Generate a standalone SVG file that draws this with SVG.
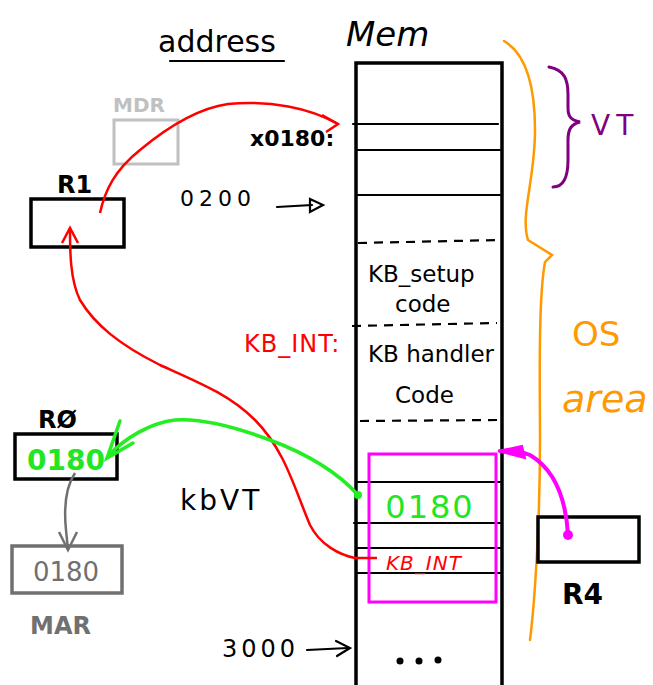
<svg xmlns="http://www.w3.org/2000/svg" width="653" height="685" viewBox="0 0 653 685">
<style>
.t{font-family:"DejaVu Sans","Liberation Sans",sans-serif;fill:#000}
.ln{stroke:#000;stroke-width:2.2;fill:none;stroke-linecap:round}
.dash{stroke:#000;stroke-width:2.2;fill:none;stroke-dasharray:9 7}
.box{stroke:#000;stroke-width:3.5;fill:#fff}
</style>
<rect width="653" height="685" fill="#fff"/>
<g id="address"><text class="t" x="158" y="52" font-size="30">address</text><path class="ln" d="M170 61 L284 61" stroke-width="2.5"/></g>
<g id="mem">
<text class="t" x="346" y="46" font-size="34" font-style="italic">Mem</text>
<path d="M356 685 L356 63 L502 63 L502 685" stroke="#000" stroke-width="3.5" fill="none"/>
<path class="ln" d="M353 124 L498 124"/>
<path class="ln" d="M356 150 L500 150"/>
<path class="ln" d="M356 195 L500 195"/>
<path class="dash" d="M358 243 L500 240"/>
<path class="dash" d="M352 326 L497 323"/>
<path class="dash" d="M360 421 L497 420"/>
<text class="t" x="368" y="282" font-size="23">KB_setup</text>
<text class="t" x="395" y="312" font-size="23">code</text>
<text class="t" x="368" y="362" font-size="23">KB handler</text>
<text class="t" x="395" y="403" font-size="23">Code</text>
<path class="ln" d="M356 482 L500 482"/>
<path class="ln" d="M354 523 L500 523"/>
<path class="ln" d="M356 548 L500 548"/>
<path class="ln" d="M356 573 L500 573"/>
<text x="430" y="518" font-size="32" fill="#22e622" text-anchor="middle" font-family="DejaVu Sans, sans-serif" letter-spacing="2">0180</text>
<text x="386" y="570" font-size="20" fill="#ff0000" font-family="DejaVu Sans, sans-serif" font-style="italic" letter-spacing="1">KB_INT</text>
<rect x="369" y="454" width="127" height="148" fill="none" stroke="#ff00ff" stroke-width="3"/>
<circle cx="400" cy="661" r="3.5"/><circle cx="419" cy="661" r="3.5"/><circle cx="438" cy="660" r="3.5"/>
</g>
<g id="labels">
<text class="t" x="250" y="146" font-size="22" font-weight="bold">x0180:</text>
<text class="t" x="180" y="206" font-size="22" letter-spacing="5">0200</text>
<text class="t" x="180" y="510" font-size="28" letter-spacing="3">kbVT</text>
<text class="t" x="222" y="657" font-size="24" letter-spacing="4">3000</text>
<text x="244" y="352" font-size="24" fill="#ff0000" font-family="DejaVu Sans, sans-serif" letter-spacing="1">KB_INT:</text>
</g>
<g id="vt"><path d="M549 67 C565 70,568 80,568 95 L568 108 C568 118,572 120,580 122 C572 124,568 128,568 140 L568 160 C568 180,562 187,553 187" stroke="#800080" stroke-width="3" fill="none" stroke-linecap="round"/>
<text x="591" y="135" font-size="28" fill="#800080" font-family="DejaVu Sans, sans-serif" letter-spacing="6">VT</text></g>
<g id="os"><path d="M504 41 C528 55,535 90,535 130 C535 180,520 215,528 240 L552 255 L545 262 C538 300,540 390,540 440 C540 520,535 600,530 640" stroke="#ff9900" stroke-width="2.5" fill="none" stroke-linecap="round"/>
<text x="572" y="346" font-size="34" fill="#ff9900" font-family="DejaVu Sans, sans-serif">OS</text>
<text x="562" y="412" font-size="38" fill="#ff9900" font-family="DejaVu Sans, sans-serif" font-style="italic">area</text></g>
<g id="mdr"><text x="113" y="112" font-size="20" font-weight="bold" fill="#c0c0c0" font-family="DejaVu Sans, sans-serif">MDR</text>
<rect x="114" y="120" width="64" height="44" fill="none" stroke="#c0c0c0" stroke-width="3"/></g>
<g id="r1"><text class="t" x="57" y="193" font-size="24" font-weight="bold">R1</text>
<rect class="box" x="31" y="199" width="93" height="48"/></g>
<g id="r0"><text class="t" x="38" y="428" font-size="24" font-weight="bold">RØ</text>
<rect class="box" x="15" y="434" width="102" height="45"/>
<text x="27" y="470" font-size="28" fill="#22e622" font-family="DejaVu Sans, sans-serif" font-weight="bold">0180</text></g>
<g id="mar"><rect x="12" y="546" width="110" height="47" fill="#fff" stroke="#707070" stroke-width="3.5"/>
<text x="66" y="581" font-size="26" fill="#707070" text-anchor="middle" font-family="DejaVu Sans, sans-serif">0180</text>
<text x="30" y="634" font-size="24" fill="#707070" font-weight="bold" font-family="DejaVu Sans, sans-serif">MAR</text></g>
<g id="r4"><rect class="box" x="538" y="517" width="101" height="45"/>
<text class="t" x="562" y="604" font-size="28" font-weight="bold">R4</text></g>
<g id="connectors">
<path d="M100 213 C105 190,115 170,140 150 C170 125,200 108,228 104 C270 100,310 108,338 124" stroke="#ff0000" stroke-width="2.5" fill="none"/>
<path d="M322 115 L338 124 L326 132" stroke="#ff0000" stroke-width="2.5" fill="none"/>
<path d="M377 558 L355 558 C340 555,320 545,310 525 C295 490,285 450,255 420 C230 395,200 383,160 365 C120 345,95 325,80 300 C70 280,70 250,70 230" stroke="#ff0000" stroke-width="2.5" fill="none"/>
<path d="M62 243 L70 228 L78 243" stroke="#ff0000" stroke-width="2.5" fill="none"/>
<path d="M358 495 C340 475,310 455,270 440 C230 425,200 418,175 420 C150 423,125 438,108 456" stroke="#22ee22" stroke-width="3.5" fill="none"/>
<path d="M120 421 L107 458 L133 443" stroke="#22ee22" stroke-width="3.5" fill="none" stroke-linecap="round"/>
<circle cx="358" cy="495" r="4" fill="#22ee22"/>
<path d="M75 473 C65 488,64 510,66 530 L68 550" stroke="#707070" stroke-width="2.5" fill="none"/>
<path d="M59 532 L68 550 L77 532" stroke="#707070" stroke-width="2.5" fill="none"/>
<path d="M568 535 C566 500,555 470,530 455 C520 451,510 450,500 451" stroke="#ff00ff" stroke-width="4" fill="none" stroke-linecap="round"/>
<path d="M498 451 L522 446 L525 458 Z" fill="#ff00ff" stroke="#ff00ff" stroke-width="2"/>
<circle cx="568" cy="535" r="5" fill="#ff00ff"/>
<path d="M277 207 L312 205" class="ln"/>
<path d="M310 199 L323 205 L310 212 Z" class="ln" stroke-width="2.5"/>
<path d="M307 650 L348 648" class="ln"/>
<path d="M336 641 L350 648 L337 656" class="ln"/>
</g>
</svg>
